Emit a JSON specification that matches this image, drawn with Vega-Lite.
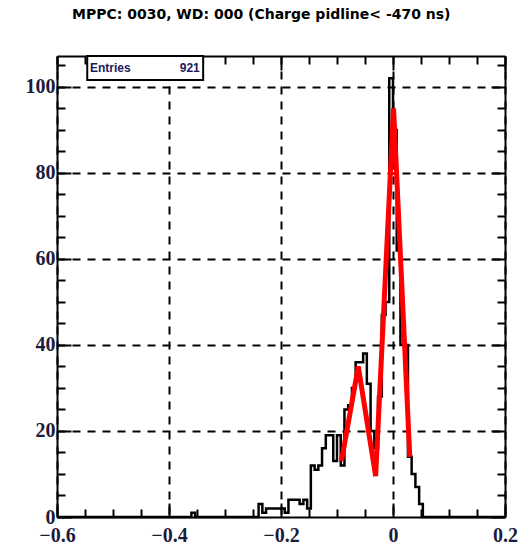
{
  "$schema": "https://vega.github.io/schema/vega-lite/v6.json",
  "width": 448,
  "height": 461,
  "autosize": "none",
  "padding": {"left": 57, "top": 56, "right": 14, "bottom": 28},
  "background": "white",
  "title": {"text": "MPPC: 0030, WD: 000 (Charge pidline< -470 ns)", "anchor": "start", "frame": "group", "dx": 15, "offset": 33, "fontSize": 14, "font": "DejaVu Sans", "fontWeight": "bold", "color": "black"},
  "config": {"view": {"stroke": null}},
  "datasets": {
    "hist": [
      {"x": -0.6, "count": 0},
      {"x": -0.36, "count": 1},
      {"x": -0.3533, "count": 0},
      {"x": -0.24, "count": 3},
      {"x": -0.2333, "count": 1},
      {"x": -0.2267, "count": 2},
      {"x": -0.22, "count": 2},
      {"x": -0.2133, "count": 2},
      {"x": -0.2067, "count": 2},
      {"x": -0.2, "count": 2},
      {"x": -0.1933, "count": 1},
      {"x": -0.1867, "count": 4},
      {"x": -0.18, "count": 4},
      {"x": -0.1733, "count": 4},
      {"x": -0.1667, "count": 3},
      {"x": -0.16, "count": 4},
      {"x": -0.1533, "count": 2},
      {"x": -0.1467, "count": 12},
      {"x": -0.14, "count": 11},
      {"x": -0.1333, "count": 12},
      {"x": -0.1267, "count": 16},
      {"x": -0.12, "count": 19},
      {"x": -0.1133, "count": 19},
      {"x": -0.1067, "count": 13},
      {"x": -0.1, "count": 19},
      {"x": -0.0933, "count": 12},
      {"x": -0.0867, "count": 25},
      {"x": -0.08, "count": 26},
      {"x": -0.0733, "count": 30},
      {"x": -0.0667, "count": 36},
      {"x": -0.06, "count": 36},
      {"x": -0.0533, "count": 38},
      {"x": -0.0467, "count": 31},
      {"x": -0.04, "count": 20},
      {"x": -0.0333, "count": 16},
      {"x": -0.0267, "count": 28},
      {"x": -0.02, "count": 47},
      {"x": -0.0133, "count": 50},
      {"x": -0.0067, "count": 102},
      {"x": 0.0, "count": 90},
      {"x": 0.0067, "count": 62},
      {"x": 0.0133, "count": 40},
      {"x": 0.02, "count": 40},
      {"x": 0.0267, "count": 14},
      {"x": 0.0333, "count": 10},
      {"x": 0.04, "count": 7},
      {"x": 0.0467, "count": 3},
      {"x": 0.0533, "count": 0},
      {"x": 0.2, "count": 0}
    ],
    "fit": [
      {"x": -0.092, "y": 13},
      {"x": -0.062, "y": 35},
      {"x": -0.031, "y": 9.5},
      {"x": 0.001, "y": 95},
      {"x": 0.03, "y": 14}
    ],
    "box": [
      {"x1": -0.546, "x2": -0.339, "y1": 101.6, "y2": 107.2}
    ],
    "label1": [
      {"x": -0.541, "y": 104.3, "label": "Entries"}
    ],
    "label2": [
      {"x": -0.345, "y": 104.3, "label": "921"}
    ]
  },
  "resolve": {"axis": {"x": "independent", "y": "independent"}},
  "layer": [
    {
      "data": {"name": "hist"},
      "mark": {"type": "line", "interpolate": "step-after", "color": "black", "strokeWidth": 2.5},
      "encoding": {
        "x": {"field": "x", "type": "quantitative",
          "scale": {"domain": [-0.6, 0.2], "nice": false, "zero": false},
          "axis": {"orient": "bottom", "title": null,
            "values": [-0.6, -0.55, -0.5, -0.45, -0.4, -0.35, -0.3, -0.25, -0.2, -0.15, -0.1, -0.05, 0, 0.05, 0.1, 0.15, 0.2],
            "labelExpr": "abs(datum.value*5 - round(datum.value*5)) < 1e-6 ? (datum.value < -1e-9 ? '−' + format(-datum.value, '.1f') : (abs(datum.value) < 1e-9 ? '0' : format(datum.value, '.1f'))) : ''",
            "labelFont": "Liberation Serif", "labelFontWeight": "bold", "labelFontSize": 20, "labelColor": "#1c1c3c",
            "labelPadding": 22, "labelFlush": false, "labelOverlap": false, "labelBaseline": "top",
            "tickSize": {"condition": {"test": "abs(datum.value*5 - round(datum.value*5)) < 1e-6", "value": -14}, "value": -8},
            "tickColor": "black", "tickWidth": 2,
            "domainColor": "black", "domainWidth": 2,
            "grid": true, "gridColor": "black", "gridWidth": 2, "gridDash": [8, 7],
            "gridOpacity": {"condition": {"test": "abs(datum.value*5 - round(datum.value*5)) < 1e-6", "value": 1}, "value": 0}
          }
        },
        "y": {"field": "count", "type": "quantitative",
          "scale": {"domain": [0, 107.2], "nice": false},
          "axis": {"orient": "left", "title": null,
            "values": [0, 5, 10, 15, 20, 25, 30, 35, 40, 45, 50, 55, 60, 65, 70, 75, 80, 85, 90, 95, 100, 105],
            "labelExpr": "datum.value % 20 == 0 ? datum.value + '' : ''",
            "labelFont": "Liberation Serif", "labelFontWeight": "bold", "labelFontSize": 20, "labelColor": "#1c1c3c",
            "labelPadding": 16, "labelFlush": false, "labelOverlap": false,
            "tickSize": {"condition": {"test": "datum.value % 20 == 0", "value": -14}, "value": -8},
            "tickColor": "black", "tickWidth": 2,
            "domainColor": "black", "domainWidth": 2,
            "grid": true, "gridColor": "black", "gridWidth": 2, "gridDash": [8, 7],
            "gridOpacity": {"condition": {"test": "datum.value % 20 == 0 && datum.value > 0", "value": 1}, "value": 0}
          }
        }
      }
    },
    {
      "data": {"name": "fit"},
      "mark": {"type": "line", "color": "#ff0000", "strokeWidth": 5},
      "encoding": {
        "x": {"field": "x", "type": "quantitative",
          "axis": {"orient": "top", "title": null, "labels": false, "grid": false,
            "values": [-0.6, -0.55, -0.5, -0.45, -0.4, -0.35, -0.3, -0.25, -0.2, -0.15, -0.1, -0.05, 0, 0.05, 0.1, 0.15, 0.2],
            "tickSize": {"condition": {"test": "abs(datum.value*5 - round(datum.value*5)) < 1e-6", "value": -14}, "value": -8},
            "tickColor": "black", "tickWidth": 2,
            "domainColor": "black", "domainWidth": 2
          }
        },
        "y": {"field": "y", "type": "quantitative",
          "axis": {"orient": "right", "title": null, "labels": false, "grid": false,
            "values": [0, 5, 10, 15, 20, 25, 30, 35, 40, 45, 50, 55, 60, 65, 70, 75, 80, 85, 90, 95, 100, 105],
            "tickSize": {"condition": {"test": "datum.value % 20 == 0", "value": -14}, "value": -8},
            "tickColor": "black", "tickWidth": 2,
            "domainColor": "black", "domainWidth": 2
          }
        }
      }
    },
    {
      "data": {"name": "box"},
      "mark": {"type": "rect", "fill": "white", "stroke": "black", "strokeWidth": 2},
      "encoding": {
        "x": {"field": "x1", "type": "quantitative", "axis": null},
        "x2": {"field": "x2"},
        "y": {"field": "y1", "type": "quantitative", "axis": null},
        "y2": {"field": "y2"}
      }
    },
    {
      "data": {"name": "label1"},
      "mark": {"type": "text", "font": "Liberation Sans", "fontWeight": "bold", "fontSize": 12, "color": "#1c1c5c", "baseline": "middle", "align": "left"},
      "encoding": {
        "x": {"field": "x", "type": "quantitative", "axis": null},
        "y": {"field": "y", "type": "quantitative", "axis": null},
        "text": {"field": "label"}
      }
    },
    {
      "data": {"name": "label2"},
      "mark": {"type": "text", "font": "Liberation Sans", "fontWeight": "bold", "fontSize": 12, "color": "#1c1c5c", "baseline": "middle", "align": "right"},
      "encoding": {
        "x": {"field": "x", "type": "quantitative", "axis": null},
        "y": {"field": "y", "type": "quantitative", "axis": null},
        "text": {"field": "label"}
      }
    }
  ]
}
